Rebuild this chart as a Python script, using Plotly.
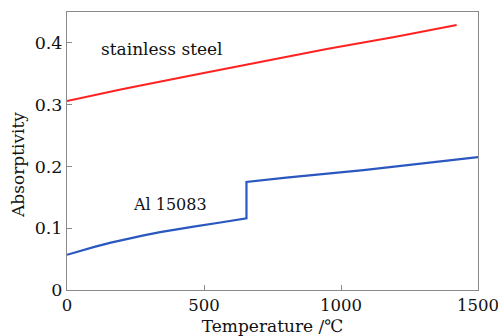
import plotly.graph_objects as go

# Data
steel_T = [0, 200, 462, 700, 948, 1200, 1422]
steel_A = [0.306, 0.325, 0.348, 0.369, 0.390, 0.410, 0.429]

al_T = [0, 50, 100, 160, 219, 280, 340, 400, 462, 560, 655, 655, 800, 1082, 1300, 1500]
al_A = [0.057, 0.0638, 0.0699, 0.0766, 0.0826, 0.0884, 0.0936, 0.0983, 0.1026, 0.1093, 0.116,
        0.175, 0.182, 0.194, 0.205, 0.215]

x_ticks = [0, 500, 1000, 1500]
y_ticks = [0, 0.1, 0.2, 0.3, 0.4]
y_ticklabels = ["0", "0.1", "0.2", "0.3", "0.4"]

FONT = "DejaVu Serif"

fig = go.Figure()
fig.add_trace(go.Scatter(x=steel_T, y=steel_A, mode="lines",
                         line=dict(color="#ff2222", width=2), showlegend=False))
fig.add_trace(go.Scatter(x=al_T, y=al_A, mode="lines",
                         line=dict(color="#2a58c0", width=2.2), showlegend=False))

fig.add_annotation(x=345, y=0.390, text="stainless steel", showarrow=False,
                   font=dict(family=FONT, size=17, color="#111"))
fig.add_annotation(x=377, y=0.1376, text="Al 15083", showarrow=False,
                   font=dict(family=FONT, size=16, color="#111"))
# y-axis title
fig.add_annotation(xref="paper", yref="paper", x=-0.119, y=0.45, text="Absorptivity",
                   textangle=-90, showarrow=False, xanchor="center", yanchor="middle",
                   font=dict(family=FONT, size=17, color="#111"))

axis_common = dict(showgrid=False, zeroline=False, showline=True, mirror=True,
                   linecolor="#8a8a8a", linewidth=1, ticks="inside", ticklen=5,
                   tickcolor="#8a8a8a", automargin=False, ticklabeloverflow="allow")

fig.update_xaxes(range=[0, 1500], tickvals=x_ticks, ticktext=[str(v) for v in x_ticks],
                 tickfont=dict(family=FONT, size=16.5, color="#111"),
                 title=dict(text="Temperature /℃", font=dict(family=FONT, size=17, color="#111")),
                 **axis_common)
fig.update_yaxes(range=[0, 0.45], tickvals=y_ticks, ticktext=y_ticklabels,
                 tickfont=dict(family=FONT, size=17.5, color="#111"),
                 **axis_common)

fig.update_layout(width=498, height=336, margin=dict(l=67, r=20, t=12, b=46),
                  plot_bgcolor="white", paper_bgcolor="white")

fig.write_html("out.html")
